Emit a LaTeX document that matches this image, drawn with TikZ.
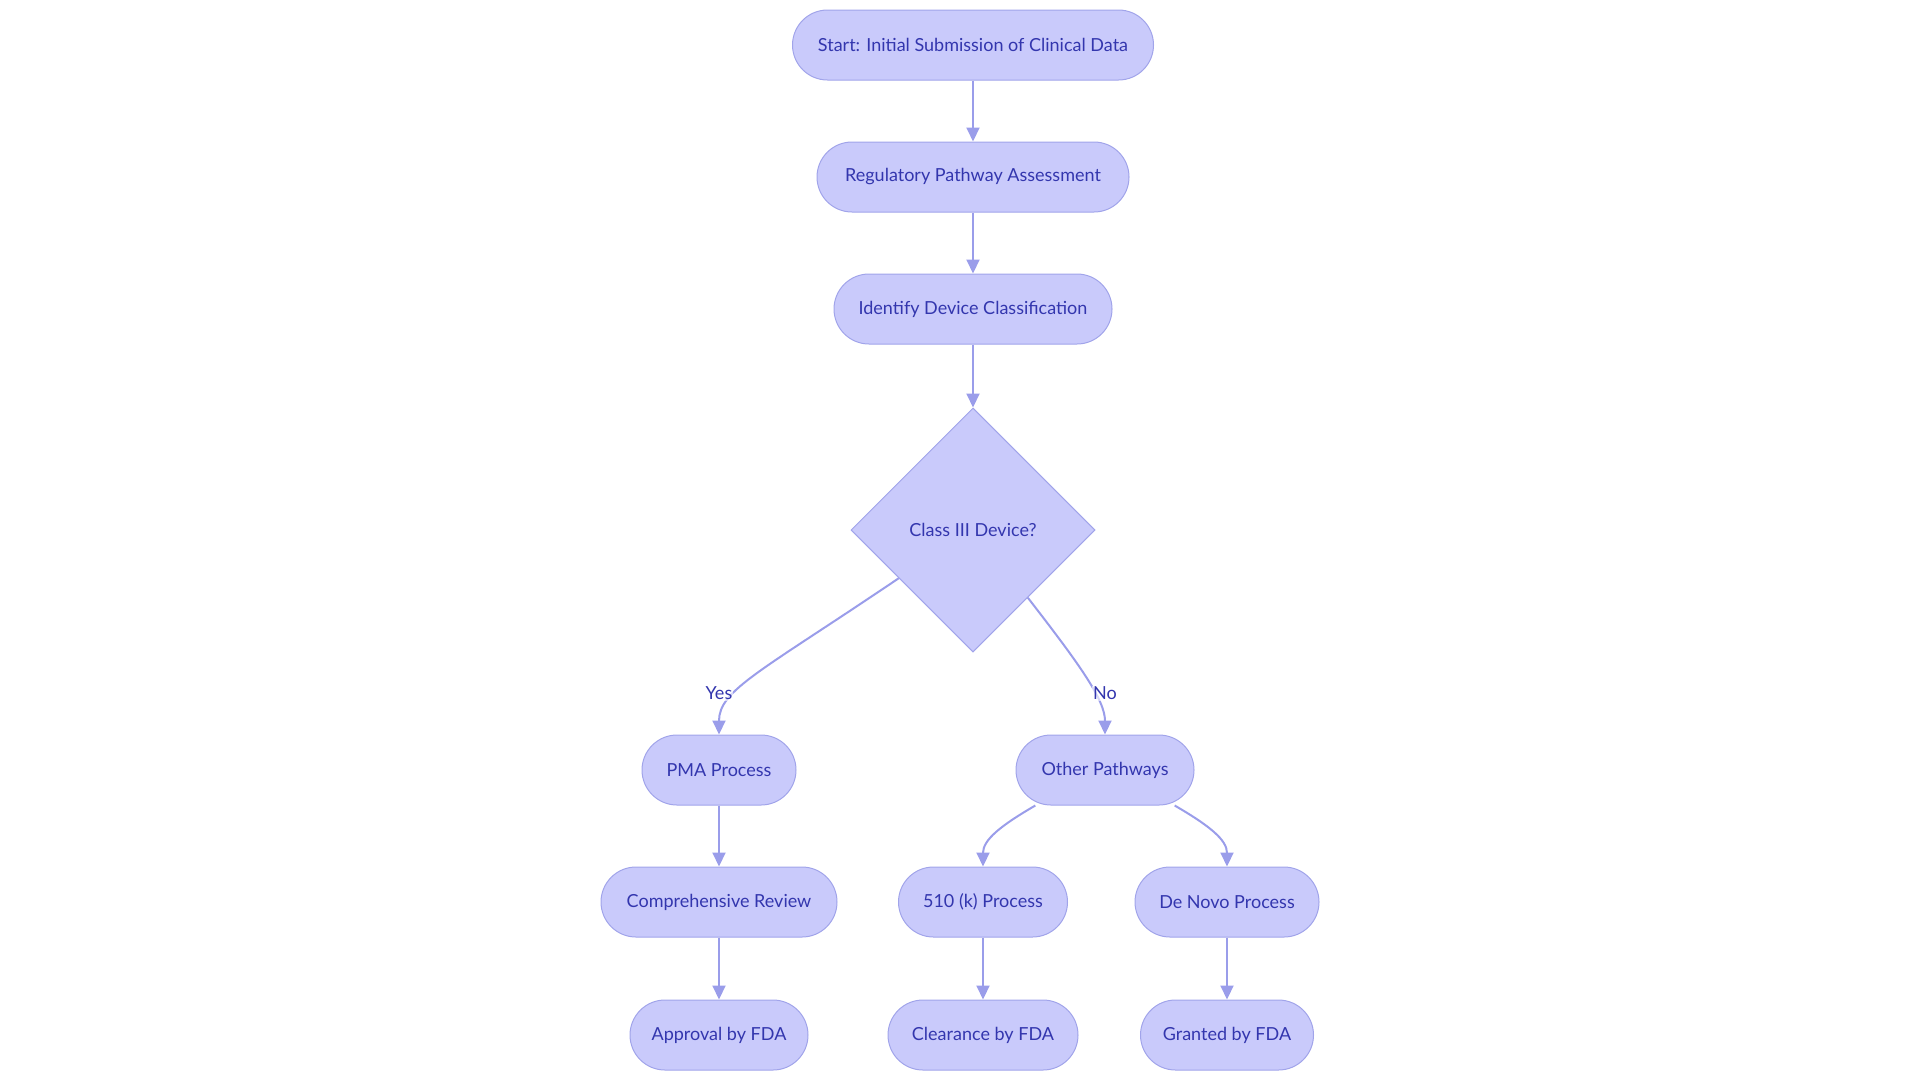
\documentclass[tikz,border=0pt]{standalone}
\usepackage{fontspec}
\setmainfont{Lato}
\usetikzlibrary{shapes.geometric,arrows.meta}
\definecolor{fillc}{HTML}{C9CAFB}
\definecolor{borderc}{HTML}{A1A4EA}
\definecolor{linec}{HTML}{9A9DEA}
\definecolor{textc}{HTML}{3336AE}
\tikzset{
  pill/.style={draw=borderc, line width=1pt, fill=fillc, text=textc, rounded corners=35pt,
    minimum height=70pt, inner sep=0pt, font=\fontsize{18}{20}\selectfont},
  decision/.style={diamond, draw=borderc, line width=1pt, fill=fillc, text=textc,
    minimum width=244pt, minimum height=244pt, inner sep=0pt, font=\fontsize{18}{20}\selectfont},
  arr/.style={draw=linec, line width=2pt, -{Triangle[length=14pt,width=13pt]}},
  elabel/.style={fill=white, fill opacity=0.6, text opacity=1, text=textc, inner sep=1pt,
    font=\fontsize{18}{20}\selectfont}
}
\begin{document}
\begin{tikzpicture}[x=1pt,y=-1pt]
\useasboundingbox (0,0) rectangle (1920,1080);
\node[pill, minimum width=361pt] (start) at (973,45) {Start: Initial Submission of Clinical Data};
\node[pill, minimum width=312pt] (reg) at (973,177) {Regulatory Pathway Assessment};
\node[pill, minimum width=278pt] (idc) at (973,309) {Identify Device Classification};
\node[decision] (dec) at (973,530) {Class III Device?};
\node[pill, minimum width=154pt] (pma) at (719,770) {PMA Process};
\node[pill, minimum width=178pt] (oth) at (1105,770) {Other Pathways};
\node[pill, minimum width=236pt] (comp) at (719,902) {Comprehensive Review};
\node[pill, minimum width=169pt] (k510) at (983,902) {510 (k) Process};
\node[pill, minimum width=184pt] (dn) at (1227,902) {De Novo Process};
\node[pill, minimum width=178pt] (appr) at (719,1035) {Approval by FDA};
\node[pill, minimum width=190pt] (clr) at (983,1035) {Clearance by FDA};
\node[pill, minimum width=173pt] (grant) at (1227,1035) {Granted by FDA};

\draw[arr] (start) -- (reg);
\draw[arr] (reg) -- (idc);
\draw[arr] (idc) -- (dec);
\draw[arr] (dec.213) .. controls (760,672) and (719,690) .. (pma.north);
\draw[arr] (dec.309) .. controls (1080,665) and (1105,700) .. (oth.north);
\draw[arr] (oth.207) .. controls (1000,826) and (983,840) .. (k510.north);
\draw[arr] (oth.333) .. controls (1210,826) and (1227,840) .. (dn.north);
\draw[arr] (pma) -- (comp);
\draw[arr] (comp) -- (appr);
\draw[arr] (k510) -- (clr);
\draw[arr] (dn) -- (grant);

\node[elabel] (yes) at (719,693) {Yes};
\node[elabel] (no) at (1105,693) {No};
\end{tikzpicture}
\end{document}
